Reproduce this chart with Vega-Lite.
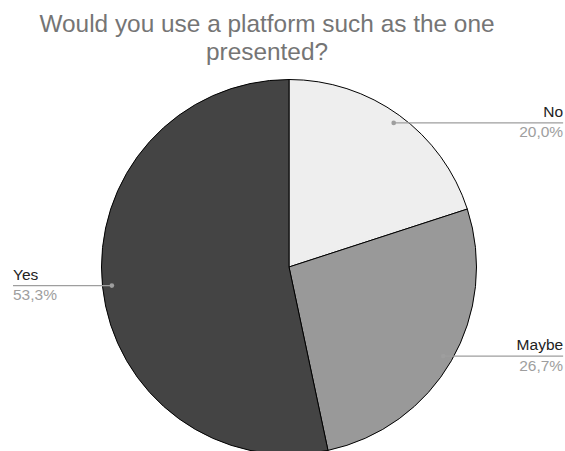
{
  "$schema": "https://vega.github.io/schema/vega-lite/v6.json",
  "autosize": "none",
  "width": 552,
  "height": 368,
  "padding": {"left": 13, "right": 0, "top": 83, "bottom": 0},
  "background": "#ffffff",
  "title": {
    "text": ["Would you use a platform such as the one", "presented?"],
    "font": "Liberation Sans",
    "fontSize": 24.4,
    "fontWeight": "normal",
    "color": "#757575",
    "lineHeight": 28,
    "anchor": "middle",
    "dx": -22,
    "offset": 12
  },
  "config": {"view": {"stroke": null}},
  "data": {
    "values": [
      {"answer": "No", "count": 3},
      {"answer": "Maybe", "count": 4},
      {"answer": "Yes", "count": 8}
    ]
  },
  "transform": [
    {"joinaggregate": [{"op": "sum", "field": "count", "as": "total"}]},
    {"window": [{"op": "row_number", "as": "idx"}, {"op": "sum", "field": "count", "as": "cum"}], "frame": [null, 0]},
    {"calculate": "2*PI*(datum.cum - datum.count/2)/datum.total", "as": "angle"},
    {"calculate": "0.95*sin(datum.angle)", "as": "px"},
    {"calculate": "0.95*cos(datum.angle)", "as": "py"},
    {"calculate": "datum.px > 0 ? 1.462 : -1.472", "as": "edge"},
    {"calculate": "replace(format(datum.count/datum.total, '.1%'), '.', ',')", "as": "pct"}
  ],
  "layer": [
    {
      "mark": {"type": "arc", "radius": 187.5, "stroke": "#000000", "strokeWidth": 1},
      "encoding": {
        "theta": {"field": "count", "type": "quantitative", "stack": true},
        "order": {"field": "idx", "type": "quantitative"},
        "color": {
          "field": "answer",
          "type": "nominal",
          "scale": {"domain": ["No", "Maybe", "Yes"], "range": ["#eeeeee", "#999999", "#444444"]},
          "legend": null
        }
      }
    },
    {
      "mark": {"type": "rule", "color": "#9e9e9e", "strokeWidth": 1.2},
      "encoding": {
        "x": {"field": "px", "type": "quantitative", "scale": {"domain": [-1.472, 1.472], "nice": false, "zero": false}, "axis": null},
        "x2": {"field": "edge"},
        "y": {"field": "py", "type": "quantitative", "scale": {"domain": [-0.98133, 0.98133], "nice": false, "zero": false}, "axis": null}
      }
    },
    {
      "mark": {"type": "point", "filled": true, "size": 22, "color": "#9e9e9e", "opacity": 1},
      "encoding": {
        "x": {"field": "px", "type": "quantitative"},
        "y": {"field": "py", "type": "quantitative"}
      }
    },
    {
      "mark": {"type": "text", "font": "Liberation Sans", "fontSize": 15.5, "color": "#222222", "dy": -6, "baseline": "alphabetic", "align": {"expr": "datum.px > 0 ? 'right' : 'left'"}},
      "encoding": {
        "x": {"field": "edge", "type": "quantitative"},
        "y": {"field": "py", "type": "quantitative"},
        "text": {"field": "answer"}
      }
    },
    {
      "mark": {"type": "text", "font": "Liberation Sans", "fontSize": 15.5, "color": "#9e9e9e", "dy": 14.5, "baseline": "alphabetic", "align": {"expr": "datum.px > 0 ? 'right' : 'left'"}},
      "encoding": {
        "x": {"field": "edge", "type": "quantitative"},
        "y": {"field": "py", "type": "quantitative"},
        "text": {"field": "pct"}
      }
    }
  ]
}
